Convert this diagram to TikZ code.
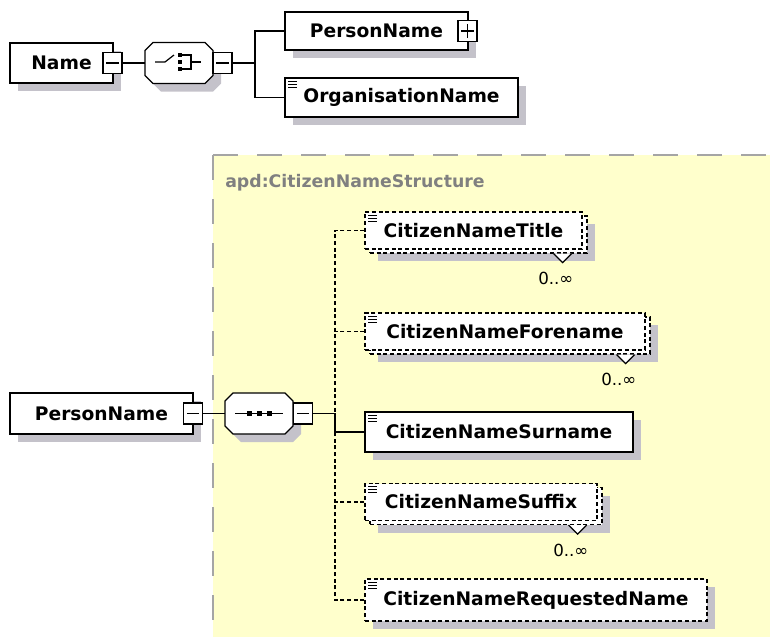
\documentclass[tikz,border=0pt]{standalone}
\usepackage{fontspec}
\setmainfont{DejaVu Sans}
\usepackage{tikz}
\usetikzlibrary{shadows,calc}

\definecolor{shadowgray}{RGB}{196,194,202}
\definecolor{groupyellow}{RGB}{255,255,204}
\definecolor{groupborder}{RGB}{165,165,165}
\definecolor{grouplabel}{RGB}{128,128,128}

% octagon of a compositor, centred at (#1,#2)
\newcommand{\compositorat}[2]{%
  \begin{scope}[shift={(#1,#2)}]
    \fill[shadowgray, shift={(8,8)}] (-26,-20.5) -- (26,-20.5) -- (34,-12.5) -- (34,12.5)
      -- (26,20.5) -- (-26,20.5) -- (-34,12.5) -- (-34,-12.5) -- cycle;
    \filldraw[fill=white, line width=0.9pt] (-26,-20.5) -- (26,-20.5) -- (34,-12.5) -- (34,12.5)
      -- (26,20.5) -- (-26,20.5) -- (-34,12.5) -- (-34,-12.5) -- cycle;
  \end{scope}}

\tikzset{
  shadowed/.style={drop shadow={shadow xshift=6pt, shadow yshift=-6pt, fill=shadowgray, opacity=1}},
  elem/.style={draw, fill=white, line width=0.9pt, inner sep=0pt,
    font=\fontsize{14}{16}\selectfont\bfseries},
  optelem/.style={elem, dash pattern=on 3pt off 2pt},
  simple/.style={path picture={
    \foreach \k in {0,1,2}
      \draw[solid, line width=0.8pt]
        ([shift={(2.5pt,-2.5pt-2.2pt*\k)}]path picture bounding box.north west) -- ++(9,0);}},
  compositor/.style={rectangle, minimum width=51pt, minimum height=30.75pt, inner sep=0pt},
  choiceicon/.style={path picture={
    \begin{scope}[shift={(path picture bounding box.center)}, line width=0.9pt]
      \draw (-24,-1) -- (-14,-1) -- (-5,-8);
      \foreach \dy in {-8,-1,6} \fill[black] (-1,\dy-1.8) rectangle (2.6,\dy+1.8);
      \draw (2.6,-8) -- (12,-8) -- (12,6) -- (2.6,6) (12,-1) -- (22,-1);
    \end{scope}}},
  seqicon/.style={path picture={
    \begin{scope}[shift={(path picture bounding box.center)}, line width=0.9pt]
      \draw (-24,0) -- (24,0);
      \foreach \dx in {-10,0,10} \fill[black] (\dx-2.5,-2.5) rectangle (\dx+2.5,2.5);
    \end{scope}}},
  toggle/.style={draw, fill=white, line width=0.9pt, minimum width=14.25pt,
    minimum height=15.75pt, inner sep=0pt},
  collapse/.style={toggle, path picture={
    \draw ([xshift=2.5pt]path picture bounding box.west) -- ([xshift=-2.5pt]path picture bounding box.east);}},
  expand/.style={toggle, path picture={
    \draw ([xshift=2.5pt]path picture bounding box.west) -- ([xshift=-2.5pt]path picture bounding box.east);
    \draw ([yshift=2.5pt]path picture bounding box.south) -- ([yshift=-2.5pt]path picture bounding box.north);}},
  link/.style={line width=0.9pt},
  optlink/.style={link, dash pattern=on 3pt off 2pt},
  occurs/.style={font=\fontsize{12.5}{14}\selectfont, inner sep=0pt, anchor=east}
}

\begin{document}
\begin{tikzpicture}[x=0.75pt, y=-0.75pt]
    \useasboundingbox (0,0) rectangle (770,637);

    % complex type area
    \fill[groupyellow] (213,155) rectangle (770,637);
    \draw[groupborder, line width=1.5pt, dash pattern=on 19pt off 14pt] (213,155) -- (770,155);
    \draw[groupborder, line width=1.5pt, dash pattern=on 19pt off 14pt] (213,155) -- (213,637);
    \node[grouplabel, anchor=west, inner sep=0pt, font=\fontsize{13}{15}\selectfont\bfseries]
      (grouptitle) at (225,183) {apd:CitizenNameStructure};

    % Name
    \node[elem, shadowed, minimum width=77.25pt, minimum height=30pt] (name) at (61.5,63) {Name\hspace{5pt}};
    \node[collapse] (namecol) at (112.5,63) {};
    \compositorat{179}{63}
    \node[compositor, choiceicon] (choice) at (179,63) {};
    \node[collapse] (choicecol) at (222.5,63) {};
    \coordinate (fork) at (255,63);
    \node[elem, shadowed, minimum width=137.25pt, minimum height=28.5pt] (pnametop) at (376.5,31) {PersonName\hspace{12pt}};
    \node[expand] (pnameexp) at (467.5,31) {};
    \node[elem, simple, shadowed, minimum width=174.75pt, minimum height=29.25pt] (orgname) at (401.5,97.5) {OrganisationName};

    \draw[link] (namecol.east) -- (choice.west);
    \draw[link] (choicecol.east) -- (fork);
    \draw[link] (pnametop.west) -| (fork) |- (orgname.west);

    % PersonName
    \node[elem, shadowed, minimum width=137.25pt, minimum height=30.75pt] (pname) at (101.5,413.5) {PersonName\hspace{10pt}};
    \node[collapse] (pnamecol) at (193,413.5) {};
    \compositorat{259}{413.5}
    \node[compositor, seqicon] (sequence) at (259,413.5) {};
    \node[collapse] (seqcol) at (303,413.5) {};
    \coordinate (seqfork) at (335,413.5);

    \node[optelem, shadowed, minimum width=162.75pt, minimum height=27.75pt] (titleback) at (478.5,234.5) {};
    \node[optelem, simple, minimum width=162.75pt, minimum height=27.75pt] (title) at (473.5,230.5) {CitizenNameTitle};
    \node[optelem, shadowed, minimum width=210pt, minimum height=27.75pt] (forenameback) at (510,335.5) {};
    \node[optelem, simple, minimum width=210pt, minimum height=27.75pt] (forename) at (505,331.5) {CitizenNameForename};
    \node[elem, simple, shadowed, minimum width=201pt, minimum height=30pt] (surname) at (499,432) {CitizenNameSurname};
    \node[optelem, shadowed, minimum width=174pt, minimum height=27.75pt] (suffixback) at (486,506) {};
    \node[optelem, simple, minimum width=174pt, minimum height=27.75pt] (suffix) at (481,502) {CitizenNameSuffix};
    \node[optelem, simple, shadowed, minimum width=256.5pt, minimum height=31.5pt] (reqname) at (536,600) {CitizenNameRequestedName};

    % occurrences
    \foreach \el in {titleback, forenameback, suffixback} {
      \filldraw[link, fill=white] ([xshift=-25.5pt]\el.south east) -- ++(9,9) -- ++(9,-9);
      \node[occurs] (\el max) at ([shift={(-10.5pt,-18.75pt)}]\el.south east) {0..∞};
    }

    \draw[link] (pnamecol.east) -- (sequence.west);
    \draw[optlink] (title.west) -| (seqfork);
    \draw[optlink] (reqname.west) -| (seqfork);
    \draw[optlink] (forename.west) -- (forename.west -| seqfork);
    \draw[optlink] (suffix.west) -- (suffix.west -| seqfork);
    \draw[link] (seqcol.east) -- (seqfork) |- (surname.west);
\end{tikzpicture}
\end{document}
